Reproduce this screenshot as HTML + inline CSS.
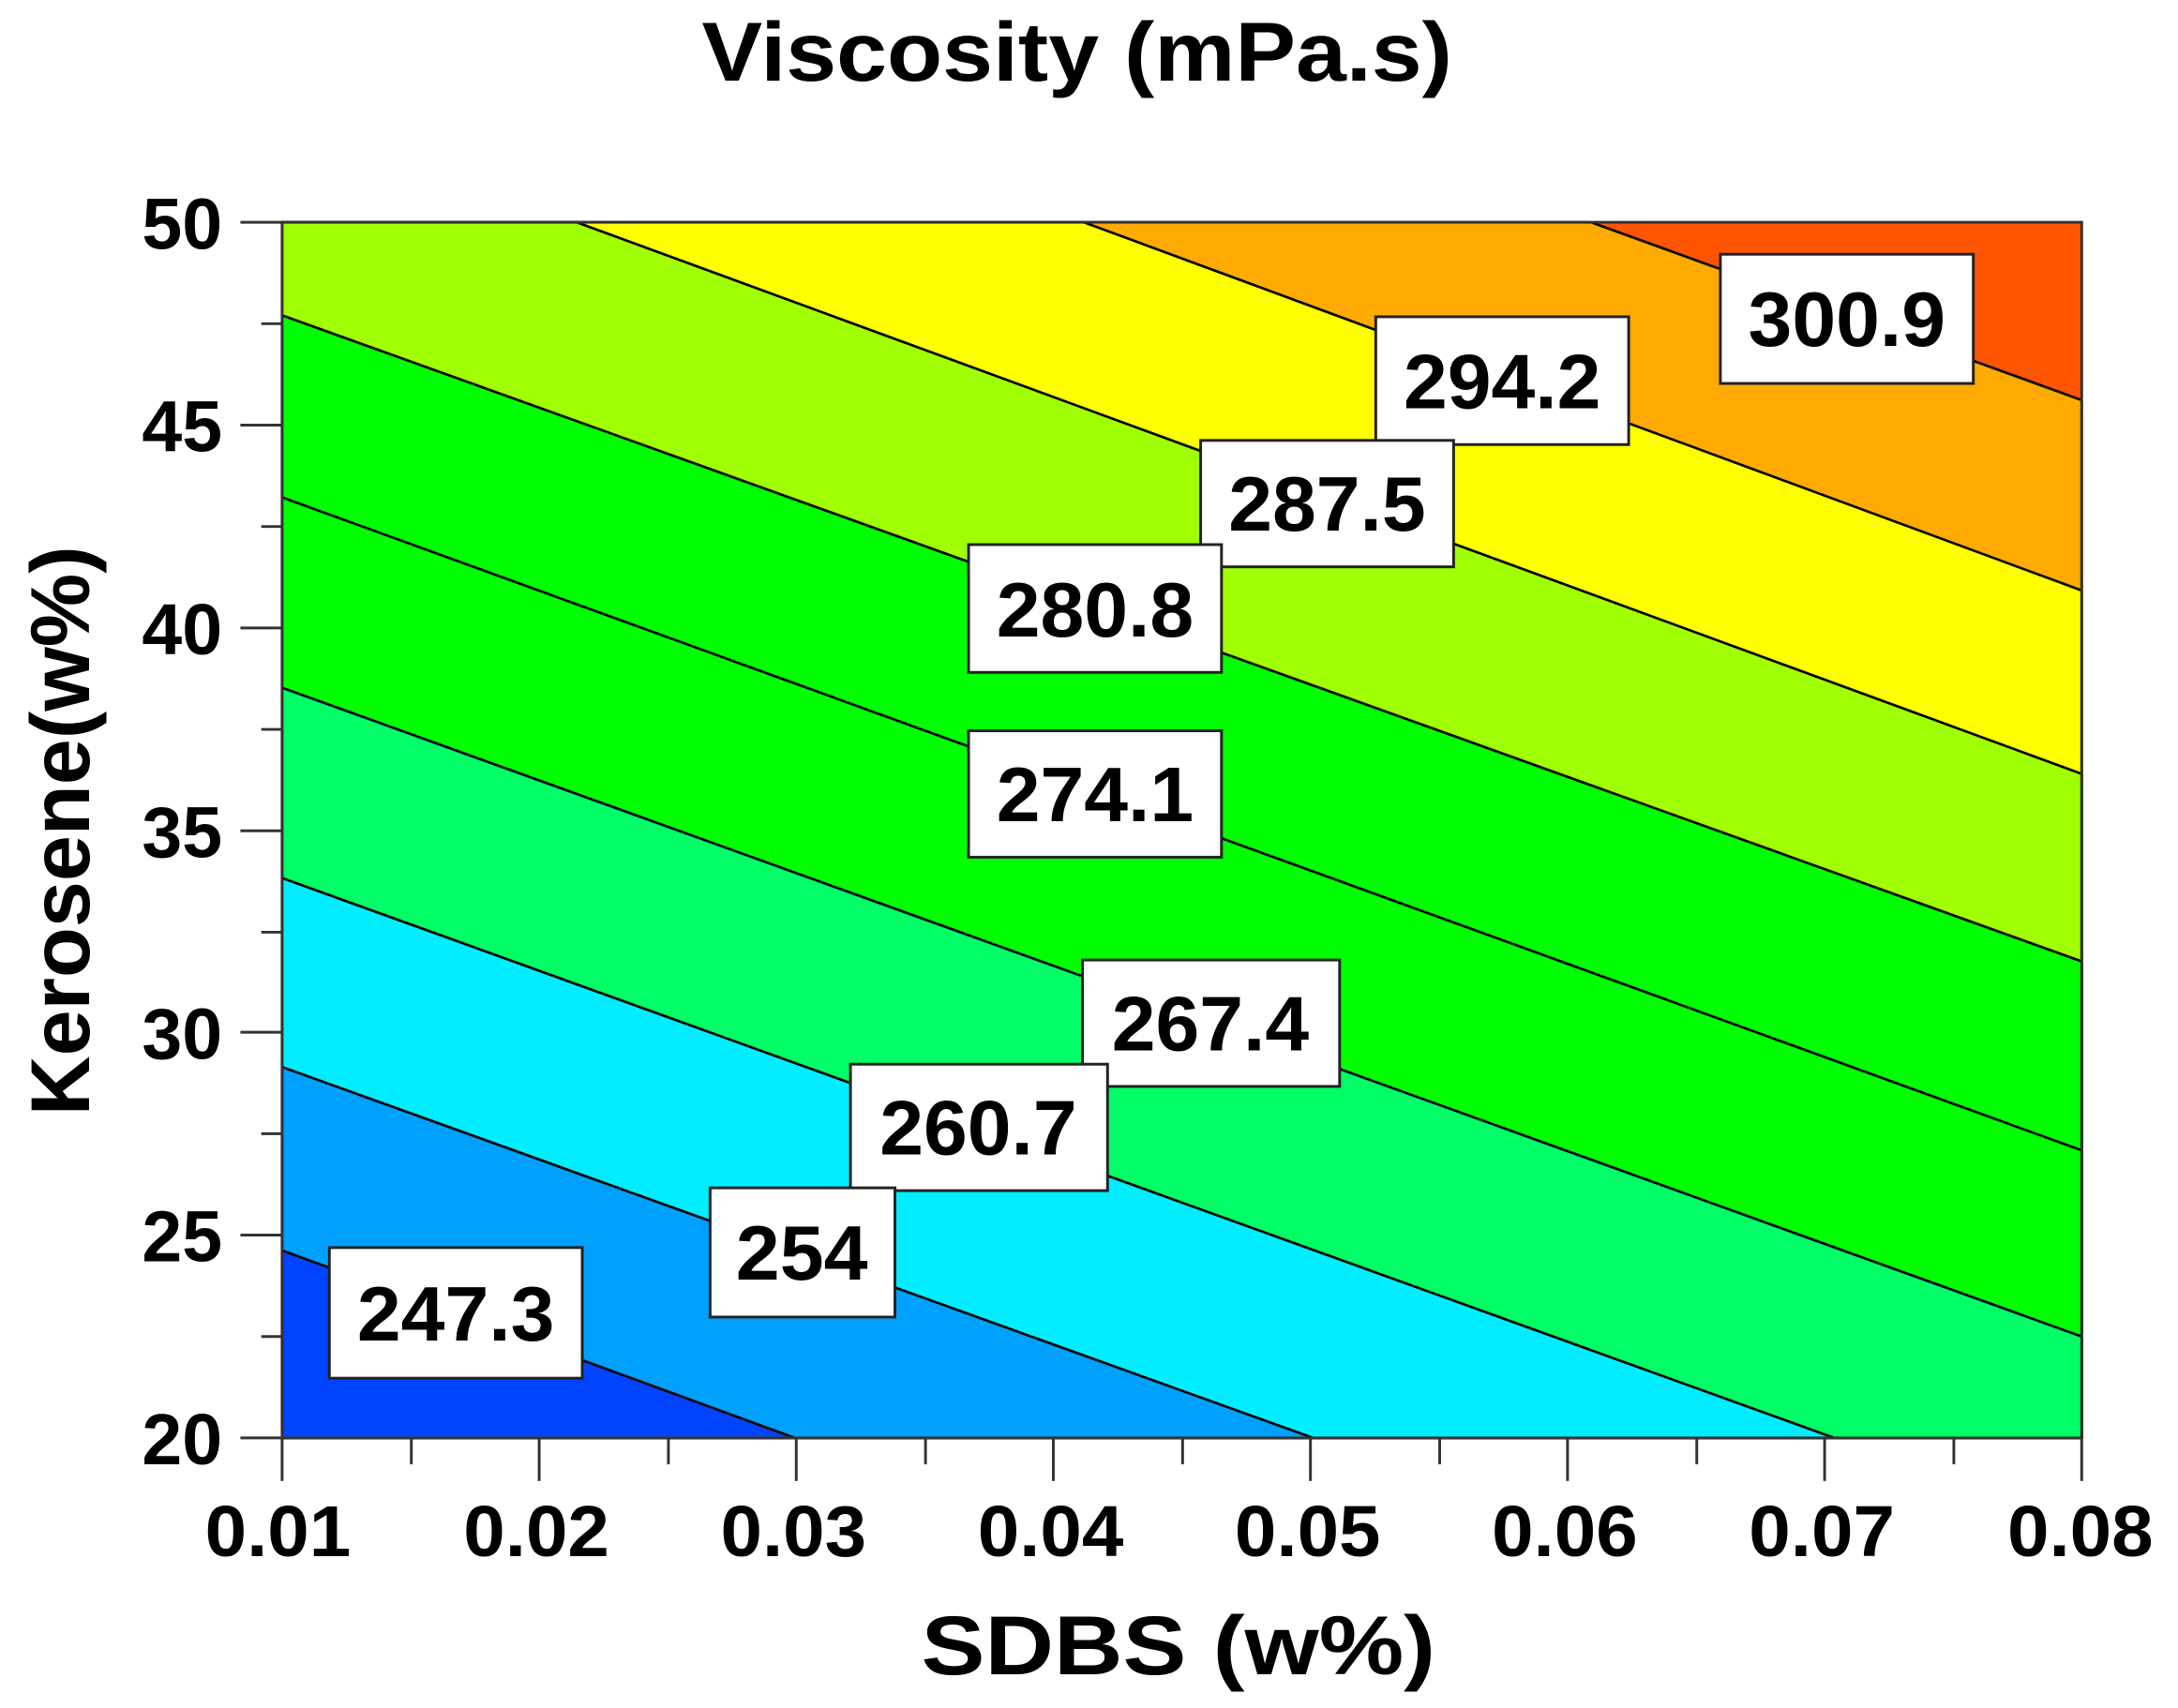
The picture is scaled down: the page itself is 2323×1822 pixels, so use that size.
<!DOCTYPE html>
<html><head><meta charset="utf-8"><style>html,body{margin:0;padding:0;background:#fff}svg{display:block}</style></head>
<body>
<svg width="2323" height="1822" viewBox="0 0 1567.3 1229.4" preserveAspectRatio="none" xmlns="http://www.w3.org/2000/svg" font-family="Liberation Sans, Arial, sans-serif" font-weight="bold">
<rect x="0" y="0" width="1567.3" height="1229.4" fill="#fff"/>
<text x="775" y="58" font-size="60" text-anchor="middle" textLength="540" lengthAdjust="spacingAndGlyphs" fill="#000">Viscosity (mPa.s)</text>
<g stroke="#000" stroke-width="1.8" stroke-linejoin="round">
<rect x="203" y="160" width="1295" height="875" fill="#ff5500" stroke="none"/>
<polygon points="1145,160 1498,288 1498,1035 203,1035 203,160" fill="#ffaa00"/>
<polygon points="780,160 1498,425 1498,1035 203,1035 203,160" fill="#ffff00"/>
<polygon points="415,160 1498,557 1498,1035 203,1035 203,160" fill="#a0ff00"/>
<polygon points="203,227 1498,692 1498,1035 203,1035" fill="#00ff00"/>
<polygon points="203,358 1498,828 1498,1035 203,1035" fill="#00ff00"/>
<polygon points="203,495 1498,962 1498,1035 203,1035" fill="#00ff66"/>
<polygon points="203,632 1320,1035 203,1035" fill="#00eeff"/>
<polygon points="203,768 945,1035 203,1035" fill="#00a0ff"/>
<polygon points="203,900 572,1035 203,1035" fill="#0044ff"/>
</g>
<rect x="203" y="160" width="1295" height="875" fill="none" stroke="#333" stroke-width="2"/>
<g fill="#fff" stroke="#222" stroke-width="2">
<rect x="1238" y="183" width="182" height="93"/>
<rect x="990" y="228" width="182" height="92"/>
<rect x="864" y="317" width="182" height="91"/>
<rect x="697" y="392" width="182" height="92"/>
<rect x="697" y="526" width="182" height="91"/>
<rect x="779" y="691" width="185" height="91"/>
<rect x="612" y="766" width="185" height="91"/>
<rect x="511" y="855" width="133" height="93"/>
<rect x="237" y="898" width="182" height="94"/>
</g>
<g font-size="56" text-anchor="middle" fill="#000">
<text x="1329" y="249" textLength="142" lengthAdjust="spacingAndGlyphs">300.9</text>
<text x="1081" y="294" textLength="142" lengthAdjust="spacingAndGlyphs">294.2</text>
<text x="955" y="382" textLength="142" lengthAdjust="spacingAndGlyphs">287.5</text>
<text x="788" y="458" textLength="142" lengthAdjust="spacingAndGlyphs">280.8</text>
<text x="788" y="591" textLength="142" lengthAdjust="spacingAndGlyphs">274.1</text>
<text x="871" y="756" textLength="142" lengthAdjust="spacingAndGlyphs">267.4</text>
<text x="704" y="831" textLength="142" lengthAdjust="spacingAndGlyphs">260.7</text>
<text x="577" y="921" textLength="95" lengthAdjust="spacingAndGlyphs">254</text>
<text x="328" y="965" textLength="142" lengthAdjust="spacingAndGlyphs">247.3</text>
</g>
<g stroke="#333" stroke-width="2">
<line x1="173" y1="160" x2="203" y2="160"/><line x1="188" y1="233" x2="203" y2="233"/>
<line x1="173" y1="306" x2="203" y2="306"/><line x1="188" y1="379" x2="203" y2="379"/>
<line x1="173" y1="452" x2="203" y2="452"/><line x1="188" y1="525" x2="203" y2="525"/>
<line x1="173" y1="598" x2="203" y2="598"/><line x1="188" y1="671" x2="203" y2="671"/>
<line x1="173" y1="743" x2="203" y2="743"/><line x1="188" y1="816" x2="203" y2="816"/>
<line x1="173" y1="889" x2="203" y2="889"/><line x1="188" y1="962" x2="203" y2="962"/>
<line x1="173" y1="1035" x2="203" y2="1035"/>
<line x1="203" y1="1035" x2="203" y2="1066"/><line x1="296" y1="1035" x2="296" y2="1054"/>
<line x1="388" y1="1035" x2="388" y2="1066"/><line x1="481" y1="1035" x2="481" y2="1054"/>
<line x1="573" y1="1035" x2="573" y2="1066"/><line x1="666" y1="1035" x2="666" y2="1054"/>
<line x1="758" y1="1035" x2="758" y2="1066"/><line x1="851" y1="1035" x2="851" y2="1054"/>
<line x1="943" y1="1035" x2="943" y2="1066"/><line x1="1036" y1="1035" x2="1036" y2="1054"/>
<line x1="1128" y1="1035" x2="1128" y2="1066"/><line x1="1221" y1="1035" x2="1221" y2="1054"/>
<line x1="1313" y1="1035" x2="1313" y2="1066"/><line x1="1406" y1="1035" x2="1406" y2="1054"/>
<line x1="1498" y1="1035" x2="1498" y2="1066"/>
</g>
<g font-size="52" text-anchor="end" fill="#000">
<text x="160" y="179">50</text><text x="160" y="325">45</text><text x="160" y="471">40</text>
<text x="160" y="617">35</text><text x="160" y="762">30</text><text x="160" y="908">25</text>
<text x="160" y="1054">20</text>
</g>
<g font-size="52" text-anchor="middle" fill="#000">
<text x="200" y="1120" textLength="105" lengthAdjust="spacingAndGlyphs">0.01</text>
<text x="386" y="1120" textLength="105" lengthAdjust="spacingAndGlyphs">0.02</text>
<text x="571" y="1120" textLength="105" lengthAdjust="spacingAndGlyphs">0.03</text>
<text x="756" y="1120" textLength="105" lengthAdjust="spacingAndGlyphs">0.04</text>
<text x="941" y="1120" textLength="105" lengthAdjust="spacingAndGlyphs">0.05</text>
<text x="1126" y="1120" textLength="105" lengthAdjust="spacingAndGlyphs">0.06</text>
<text x="1311" y="1120" textLength="105" lengthAdjust="spacingAndGlyphs">0.07</text>
<text x="1497" y="1120" textLength="105" lengthAdjust="spacingAndGlyphs">0.08</text>
</g>
<text x="848" y="1205" font-size="60" text-anchor="middle" textLength="370" lengthAdjust="spacingAndGlyphs" fill="#000">SDBS (w%)</text>
<text transform="translate(64,598) rotate(-90)" font-size="60" text-anchor="middle" textLength="410" lengthAdjust="spacingAndGlyphs" fill="#000">Kerosene(w%)</text>
</svg>
</body></html>
